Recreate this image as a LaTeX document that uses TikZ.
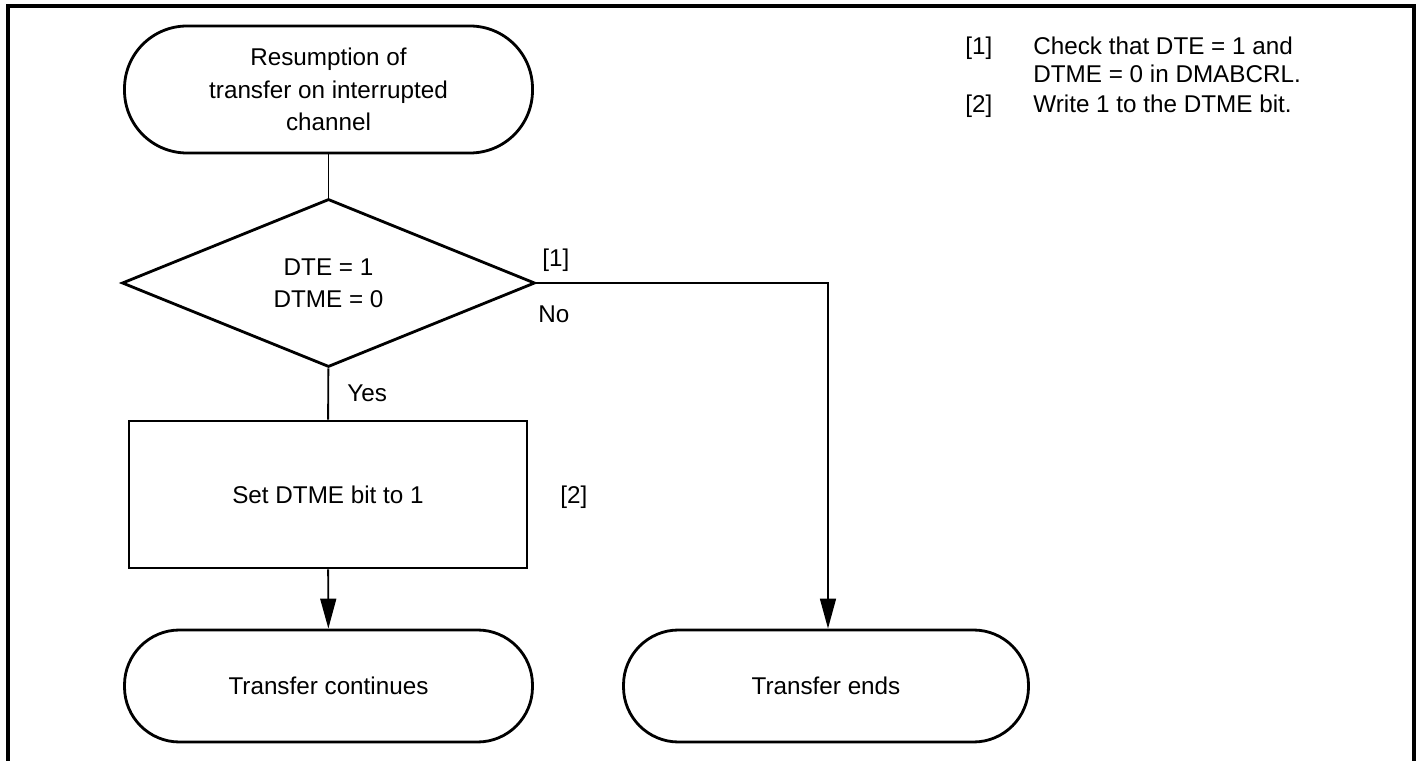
\documentclass[tikz,border=0pt]{standalone}
\usepackage{fontspec}
\setmainfont{Liberation Sans}
\usetikzlibrary{shapes.geometric, arrows.meta, positioning}

\begin{document}
\begin{tikzpicture}[
    font=\fontsize{13.8pt}{18.4pt}\selectfont,
    term/.style={draw, line width=1.6pt, rounded corners=1.1cm,
                 minimum width=8.16cm, minimum height=2.24cm, align=center},
    decide/.style={draw, diamond, line width=1.6pt, inner sep=0pt,
                   minimum width=8.26cm, minimum height=3.36cm, align=center},
    proc/.style={draw, line width=1.6pt, minimum width=7.96cm,
                 minimum height=2.94cm, align=center},
    link/.style={line width=1.1pt},
    arrow/.style={line width=1.1pt, -{Triangle[length=17pt, width=9pt]}},
    lbl/.style={anchor=base west, inner sep=0pt}
]
    \useasboundingbox (0,0) rectangle (28.34,-15.22);
    \draw[line width=2.1pt] (0.16,-15.22) -- (0.16,-0.12) -- (28.28,-0.12) -- (28.28,-15.22);

    \node[term, minimum height=2.54cm, rounded corners=1.25cm] (start) at (6.57,-1.79)
        {Resumption of\\transfer on interrupted\\channel};
    \node[decide] (chk) at (6.57,-5.66) {DTE = 1\\DTME = 0};
    \node[proc] (set) at (6.56,-9.89) {Set DTME bit to 1};
    \node[term] (cont) at (6.57,-13.72) {Transfer continues};
    \node[term, minimum width=8.1cm] (ends) at (16.52,-13.72) {Transfer ends};
    \coordinate (turn) at (16.56,-5.66);

    \draw[link] (start) -- (chk);
    \draw[link] (chk) -- (set);
    \draw[arrow] (set) -- (cont);
    \draw[arrow] (chk.east) -- (turn) -- (turn |- ends.north);

    \node[lbl] (m1) at (10.84,-5.33) {[1]};
    \node[lbl] (no) at (10.76,-6.46) {No};
    \node[lbl] (yes) at (6.94,-8.02) {Yes};
    \node[lbl] (m2) at (11.2,-10.06) {[2]};

    \node[lbl] (n1) at (19.3,-1.10) {[1]};
    \node[lbl] (t1) at (20.66,-1.10) {Check that DTE = 1 and};
    \node[lbl] (t1b) at (20.66,-1.66) {DTME = 0 in DMABCRL.};
    \node[lbl] (n2) at (19.3,-2.26) {[2]};
    \node[lbl] (t2) at (20.66,-2.26) {Write 1 to the DTME bit.};
\end{tikzpicture}
\end{document}
